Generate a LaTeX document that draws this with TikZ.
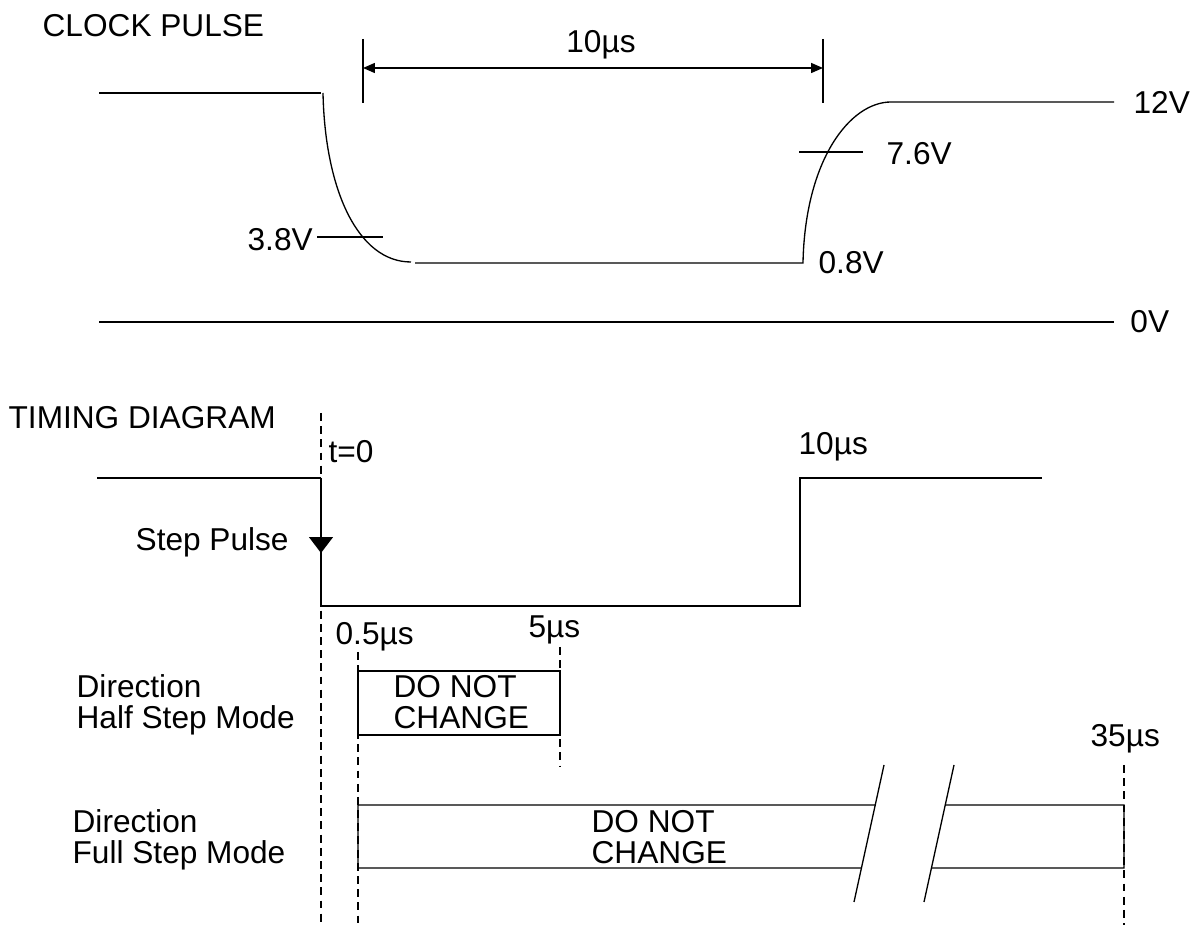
\documentclass[tikz,border=0pt]{standalone}
\usepackage{fontspec}
\setmainfont{Liberation Sans}
\usetikzlibrary{positioning,arrows.meta,calc}

\begin{document}
\begin{tikzpicture}[x=0.02cm,y=-0.02cm,line width=0.75pt,
		lbl/.style={inner sep=0pt,font=\fontsize{18}{17.6}\selectfont},
		guide/.style={dash pattern=on 4.5pt off 3pt,line width=0.6pt},
		dim/.style={{Triangle[length=6.8pt,width=5.7pt]}-{Triangle[length=6.8pt,width=5.7pt]}}]
				\useasboundingbox (0,0) rectangle (1198,925);
				\coordinate (hiA) at (99,93);          \coordinate (fallS) at (323,93);
				\coordinate (fallE) at (411,262);      \coordinate (loA) at (415,263);
				\coordinate (loB) at (803,263);        \coordinate (riseE) at (891,102);
				\coordinate (hiB) at (1114,102);       \coordinate (zeroA) at (99,322);
				\coordinate (zeroB) at (1114,322);
				\draw [shorten >=1.2pt] (hiA) -- (fallS);
				\draw (fallS) .. controls (325,190) and (358,262) .. (fallE);
				\draw (loA) -- (loB) .. controls (805,160) and (850,102) .. (riseE) -- (hiB);
				\draw (zeroA) -- (zeroB);
				\draw (317,237) coordinate (m38a) -- (383,237) coordinate (m38b);
				\draw (799,152) coordinate (m76a) -- (863,152) coordinate (m76b);
				\draw (363,39) -- (363,103);           \draw (823,39) -- (823,103);
				\coordinate (dimL) at (363,68);        \coordinate (dimR) at (823,68);
				\draw [dim] (dimL) -- (dimR);
				\node [lbl,anchor=base west] (clk) at (42,37) {CLOCK PULSE};
				\node [lbl,anchor=base] (w10) at (601,53) {10µs};
				\node [lbl,right=10.8pt of hiB] (v12) {12V};
				\node [lbl,right=9pt of zeroB] (v0) {0V};
				\node [lbl,anchor=base west] (v76) at (886,165) {7.6V};
				\node [lbl,anchor=base west] (v08) at (818,274) {0.8V};
				\node [lbl,anchor=base west] (v38) at (247,251) {3.8V};
				\coordinate (stA) at (97,478);         \coordinate (t0) at (321,478);
				\coordinate (stMid) at (321,553);      \coordinate (t0lo) at (321,606);
				\coordinate (t10lo) at (800,606);      \coordinate (t10) at (800,478);
				\coordinate (stB) at (1042,478);
				\draw (stA) -- (t0);
				\draw [-{Triangle[length=9pt,width=13.5pt]}] (t0) -- (stMid);
				\draw (stMid) -- (t0lo) -- (t10lo) -- (t10) -- (stB);
				\draw [guide] (321,413) -- (321,925);  \draw [guide] (358,652) -- (358,925);
				\draw [guide] (560,647) -- (560,767);  \draw [guide] (1124,765) -- (1124,925);
				\draw (358,671) rectangle (560,735);
				\coordinate (brkAt) at (884,765);      \coordinate (brkAb) at (854,902);
				\coordinate (brkBt) at (954,765);      \coordinate (brkBb) at (924,902);
				\draw (brkAt) -- (brkAb);              \draw (brkBt) -- (brkBb);
				\draw ($(brkAt)!0.292!(brkAb)$) -- (358,805) -- (358,868) -- ($(brkAt)!0.752!(brkAb)$);
				\draw ($(brkBt)!0.292!(brkBb)$) -- (1124,805) -- (1124,868) -- ($(brkBt)!0.752!(brkBb)$);
				\node [lbl,anchor=base west] (tim) at (8,429) {TIMING DIAGRAM};
				\node [lbl,anchor=base west] (tz) at (328,463) {t=0};
				\node [lbl,anchor=base west] (t10l) at (798,455) {10µs};
				\node [lbl,anchor=base west] (step) at (135,551) {Step Pulse};
				\node [lbl,anchor=base west] (t05) at (335,645) {0.5µs};
				\node [lbl,anchor=base west] (t5) at (528,638) {5µs};
				\node [lbl,anchor=base west] (t35) at (1090,747) {35µs};
				\node [lbl,anchor=north west,align=left] (half) at (76,674) {Direction\\Half Step Mode};
				\node [lbl,anchor=north west,align=left] (full) at (72,809) {Direction\\Full Step Mode};
				\node [lbl,anchor=north west,align=left] (dncA) at (393,675) {DO NOT\\CHANGE};
				\node [lbl,anchor=north west,align=left] (dncB) at (591,810) {DO NOT\\CHANGE};
\end{tikzpicture}
\end{document}
